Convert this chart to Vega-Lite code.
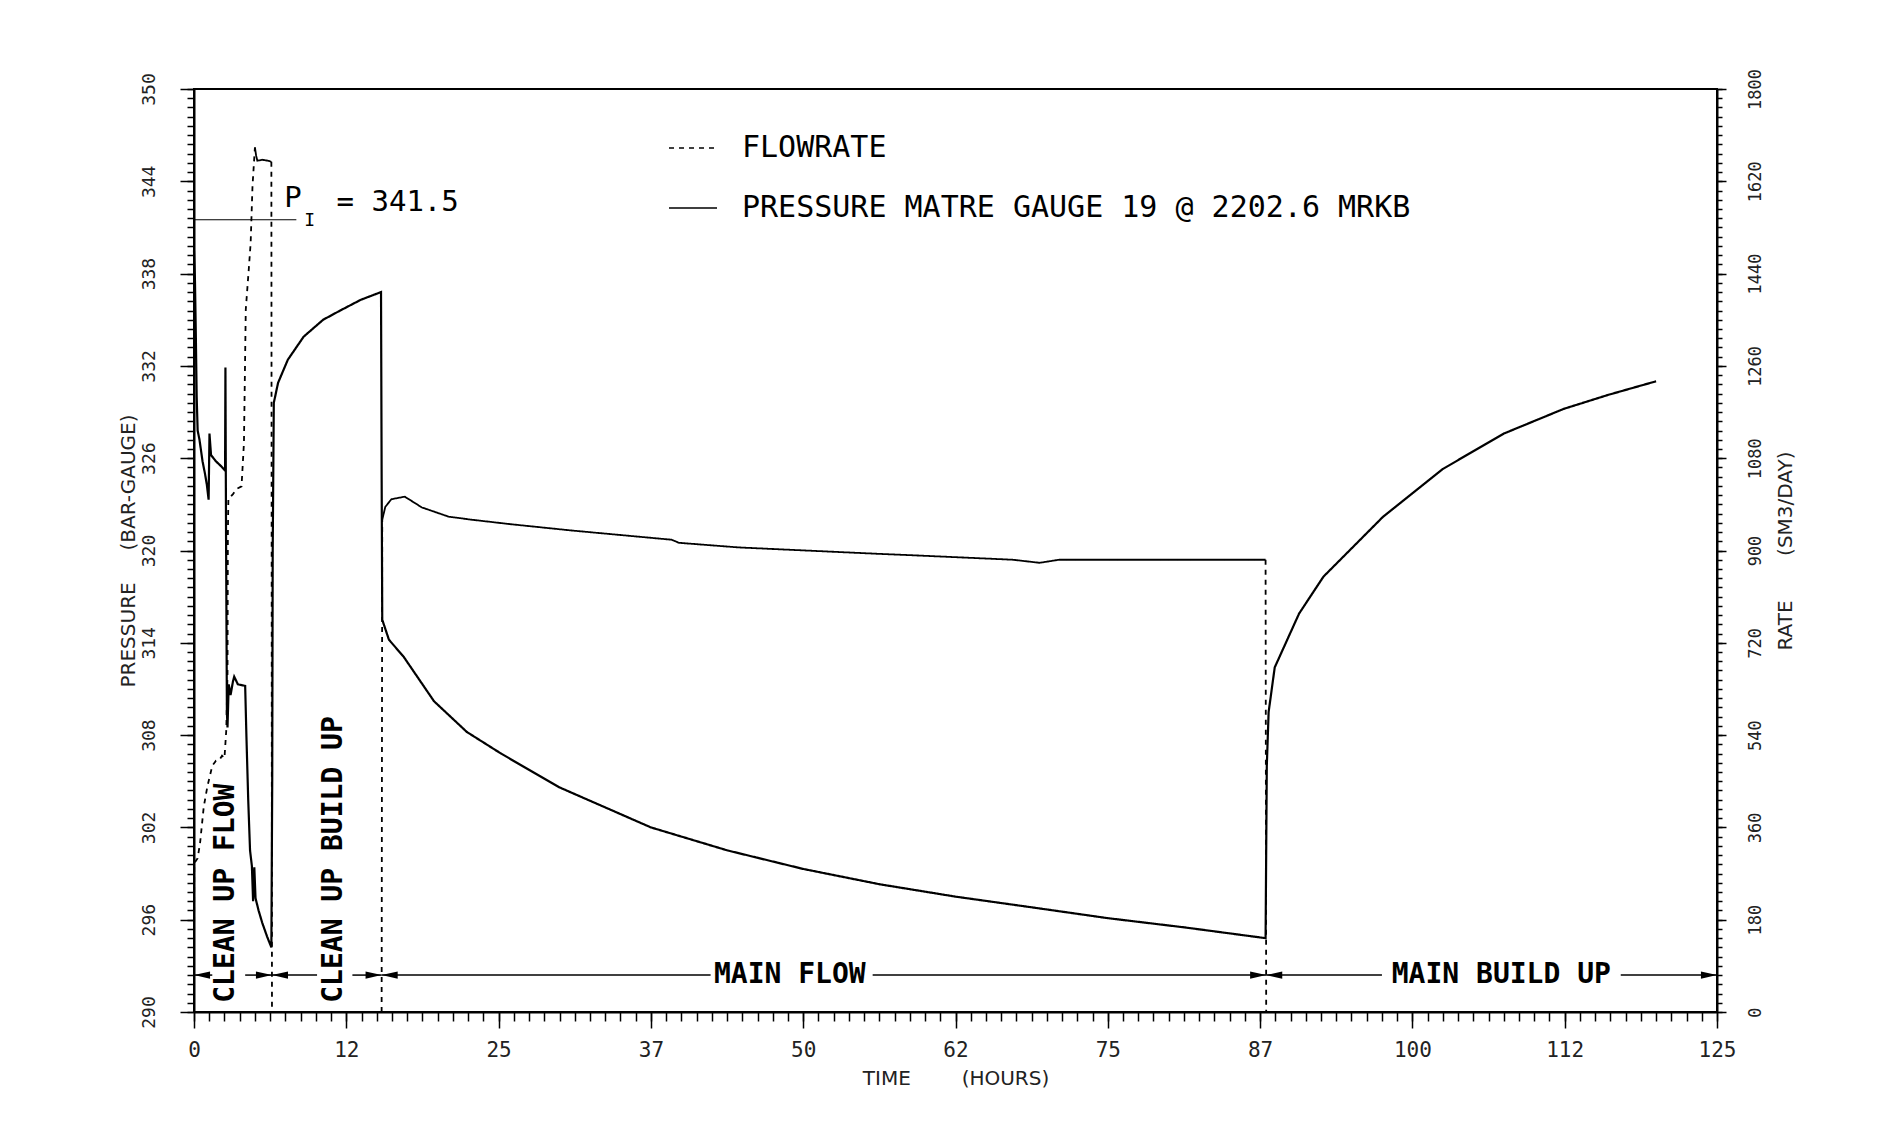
{
"$schema":"https://vega.github.io/schema/vega-lite/v6.json",
"width":1523,"height":923,
"autosize":{"type":"none"},
"padding":{"left":194,"top":89,"right":169,"bottom":136},
"background":"white",
"config":{"view":{"stroke":"black","strokeWidth":2},"axis":{"domainColor":"black","domainWidth":2,"tickColor":"black","tickWidth":1.5,"labelColor":"#222","grid":false,"labelOverlap":false,"labelFlush":false,"labelFont":"DejaVu Sans Mono","titleFont":"DejaVu Sans","titleFontWeight":"normal","titleColor":"#222","titleFontSize":20,"offset":0}},
"datasets":{
"pressure":[
{"t":0,"p":339.5},{"t":0.08,"p":337.5},{"t":0.15,"p":334},{"t":0.22,"p":330},{"t":0.3,"p":327.8},{"t":0.45,"p":327.2},{"t":0.7,"p":325.8},{"t":0.9,"p":325},{"t":1.05,"p":324.3},{"t":1.2,"p":323.3},{"t":1.27,"p":327.6},{"t":1.4,"p":326.2},{"t":1.8,"p":325.8},{"t":2.2,"p":325.5},{"t":2.55,"p":325.2},{"t":2.58,"p":331.9},{"t":2.63,"p":321},{"t":2.7,"p":309.5},{"t":2.75,"p":308.5},{"t":2.85,"p":311.3},{"t":3.0,"p":310.6},{"t":3.2,"p":311.5},{"t":3.3,"p":311.8},{"t":3.6,"p":311.3},{"t":4.2,"p":311.2},{"t":4.3,"p":308},{"t":4.45,"p":303.8},{"t":4.6,"p":300.5},{"t":4.75,"p":299.5},{"t":4.85,"p":297.2},{"t":4.95,"p":299.4},{"t":5.05,"p":297.4},{"t":5.3,"p":296.6},{"t":5.6,"p":295.8},{"t":6.0,"p":294.9},{"t":6.35,"p":294.2},{"t":6.42,"p":305},{"t":6.46,"p":320},{"t":6.55,"p":329.6},{"t":6.9,"p":330.9},{"t":7.7,"p":332.4},{"t":9.0,"p":333.9},{"t":10.6,"p":335.0},{"t":12.0,"p":335.6},{"t":13.7,"p":336.3},{"t":15.35,"p":336.8},{"t":15.4,"p":325},{"t":15.45,"p":315.5},{"t":16.0,"p":314.2},{"t":17.2,"p":313.1},{"t":19.7,"p":310.2},{"t":22.4,"p":308.2},{"t":25.2,"p":306.8},{"t":30.0,"p":304.6},{"t":37.5,"p":302.0},{"t":43.8,"p":300.5},{"t":50.0,"p":299.3},{"t":56.3,"p":298.3},{"t":62.5,"p":297.5},{"t":68.8,"p":296.8},{"t":75.0,"p":296.1},{"t":81.3,"p":295.5},{"t":87.95,"p":294.8},{"t":88.05,"p":306},{"t":88.2,"p":309.5},{"t":88.7,"p":312.4},{"t":90.7,"p":315.9},{"t":92.7,"p":318.3},{"t":97.6,"p":322.2},{"t":102.5,"p":325.3},{"t":107.5,"p":327.6},{"t":112.4,"p":329.2},{"t":116.0,"p":330.1},{"t":120.0,"p":331.0}
],
"flow":[
{"t":0,"q":0,"piece":1,"kind":"transition"},{"t":0.02,"q":290,"piece":1,"kind":"transition"},{"t":0.3,"q":300,"piece":1,"kind":"transition"},{"t":0.5,"q":330,"piece":1,"kind":"transition"},{"t":0.8,"q":400,"piece":1,"kind":"transition"},{"t":1.1,"q":440,"piece":1,"kind":"transition"},{"t":1.5,"q":480,"piece":1,"kind":"transition"},{"t":1.8,"q":490,"piece":1,"kind":"transition"},{"t":2.1,"q":492,"piece":1,"kind":"transition"},{"t":2.3,"q":500,"piece":1,"kind":"transition"},{"t":2.5,"q":495,"piece":1,"kind":"transition"},{"t":2.65,"q":550,"piece":1,"kind":"transition"},{"t":2.75,"q":660,"piece":1,"kind":"transition"},{"t":2.78,"q":930,"piece":1,"kind":"transition"},{"t":2.82,"q":1000,"piece":1,"kind":"transition"},{"t":3.2,"q":1010,"piece":1,"kind":"transition"},{"t":3.5,"q":1020,"piece":1,"kind":"transition"},{"t":3.9,"q":1025,"piece":1,"kind":"transition"},{"t":4.1,"q":1110,"piece":1,"kind":"transition"},{"t":4.25,"q":1370,"piece":1,"kind":"transition"},{"t":4.5,"q":1450,"piece":1,"kind":"transition"},{"t":4.65,"q":1500,"piece":1,"kind":"transition"},{"t":4.8,"q":1610,"piece":1,"kind":"transition"},{"t":5.0,"q":1686,"piece":1,"kind":"transition"},
{"t":5.0,"q":1686,"piece":2,"kind":"stable"},{"t":5.1,"q":1670,"piece":2,"kind":"stable"},{"t":5.2,"q":1660,"piece":2,"kind":"stable"},{"t":5.6,"q":1662,"piece":2,"kind":"stable"},{"t":6.1,"q":1660,"piece":2,"kind":"stable"},{"t":6.35,"q":1658,"piece":2,"kind":"stable"},
{"t":6.35,"q":1658,"piece":3,"kind":"transition"},{"t":6.4,"q":0,"piece":3,"kind":"transition"},
{"t":15.4,"q":0,"piece":4,"kind":"transition"},{"t":15.45,"q":960,"piece":4,"kind":"transition"},
{"t":15.45,"q":960,"piece":5,"kind":"stable"},{"t":15.7,"q":985,"piece":5,"kind":"stable"},{"t":16.2,"q":1000,"piece":5,"kind":"stable"},{"t":17.3,"q":1005,"piece":5,"kind":"stable"},{"t":18.7,"q":984,"piece":5,"kind":"stable"},{"t":20.9,"q":966,"piece":5,"kind":"stable"},{"t":22.8,"q":960,"piece":5,"kind":"stable"},{"t":26.1,"q":951,"piece":5,"kind":"stable"},{"t":31.0,"q":939,"piece":5,"kind":"stable"},{"t":35.1,"q":930,"piece":5,"kind":"stable"},{"t":39.2,"q":921,"piece":5,"kind":"stable"},{"t":39.8,"q":915,"piece":5,"kind":"stable"},{"t":44.7,"q":906,"piece":5,"kind":"stable"},{"t":55.7,"q":894,"piece":5,"kind":"stable"},{"t":58.7,"q":891,"piece":5,"kind":"stable"},{"t":67.2,"q":882,"piece":5,"kind":"stable"},{"t":69.4,"q":876,"piece":5,"kind":"stable"},{"t":71.0,"q":882,"piece":5,"kind":"stable"},{"t":80.0,"q":882,"piece":5,"kind":"stable"},{"t":87.95,"q":882,"piece":5,"kind":"stable"},
{"t":87.95,"q":882,"piece":6,"kind":"transition"},{"t":88.0,"q":0,"piece":6,"kind":"transition"}
],
"pi":[{"t0":0,"t1":8.4,"p":341.5}],
"spans":[{"t0":0,"t1":1.5,"p":292.4},{"t0":4.2,"t1":6.4,"p":292.4},{"t0":6.4,"t1":10.1,"p":292.4},{"t0":13.0,"t1":15.4,"p":292.4},{"t0":15.4,"t1":42.4,"p":292.4},{"t0":55.7,"t1":88.0,"p":292.4},{"t0":88.0,"t1":97.5,"p":292.4},{"t0":117.1,"t1":125,"p":292.4}],
"heads":[{"t":0.66,"p":292.4,"dir":"left"},{"t":5.74,"p":292.4,"dir":"right"},{"t":7.06,"p":292.4,"dir":"left"},{"t":14.74,"p":292.4,"dir":"right"},{"t":16.06,"p":292.4,"dir":"left"},{"t":87.34,"p":292.4,"dir":"right"},{"t":88.66,"p":292.4,"dir":"left"},{"t":124.34,"p":292.4,"dir":"right"}],
"notes":[{"label":"P","t":7.4,"p":342.9,"kind":"pi"},{"label":"= 341.5","t":11.7,"p":342.65,"kind":"pi"},{"label":"I","t":9.5,"p":341.45,"kind":"sub"},{"label":"CLEAN UP FLOW","t":2.6,"p":290.6,"kind":"phaseV"},{"label":"CLEAN UP BUILD UP","t":11.5,"p":290.6,"kind":"phaseV"},{"label":"MAIN FLOW","t":48.9,"p":292.4,"kind":"phaseH"},{"label":"MAIN BUILD UP","t":107.3,"p":292.4,"kind":"phaseH"}]
},
"layer":[
{"layer":[
{"data":{"name":"pressure"},"mark":{"type":"line","color":"black","strokeWidth":2.2},
 "encoding":{
  "x":{"field":"t","type":"quantitative","scale":{"domain":[0,125],"nice":false,"zero":false},
   "axis":{"orient":"bottom","values":[0,12.5,25,37.5,50,62.5,75,87.5,100,112.5,125],
    "title":"TIME\u00a0\u00a0\u00a0\u00a0\u00a0\u00a0\u00a0\u00a0(HOURS)","labelExpr":"'' + floor(datum.value)","labelFontSize":21,"labelPadding":11,"titlePadding":8,"tickSize":16}},
  "y":{"field":"p","type":"quantitative","scale":{"domain":[290,350],"nice":false,"zero":false},
   "axis":{"orient":"left","values":[290,296,302,308,314,320,326,332,338,344,350],
    "title":"PRESSURE\u00a0\u00a0\u00a0\u00a0\u00a0(BAR-GAUGE)","labelAngle":270,"labelAlign":"center","labelBaseline":"bottom","labelFontSize":18,"labelPadding":22,"titlePadding":2,"tickSize":14}},
  "strokeDash":{"datum":"PRESSURE MATRE GAUGE 19 @ 2202.6 MRKB","type":"nominal",
   "scale":{"domain":["FLOWRATE","PRESSURE MATRE GAUGE 19 @ 2202.6 MRKB"],"range":[[5,5],[1,0]]},
   "legend":{"orient":"none","legendX":474,"legendY":34,"direction":"vertical","title":null,"symbolType":"stroke","symbolSize":2304,"symbolStrokeWidth":1.5,"symbolStrokeColor":"black","labelFont":"DejaVu Sans Mono","labelFontSize":30,"labelColor":"black","labelLimit":0,"labelOffset":24,"rowPadding":20,"padding":0}}
 }},
{"data":{"name":"pi"},"mark":{"type":"rule","color":"black","strokeWidth":1.2},
 "encoding":{"x":{"field":"t0","type":"quantitative","scale":{"domain":[0,125]},"axis":null},"x2":{"field":"t1"},
  "y":{"field":"p","type":"quantitative","scale":{"domain":[290,350]},
   "axis":{"orient":"left","values":[290,290.6,291.2,291.8,292.4,293,293.6,294.2,294.8,295.4,296,296.6,297.2,297.8,298.4,299,299.6,300.2,300.8,301.4,302,302.6,303.2,303.8,304.4,305,305.6,306.2,306.8,307.4,308,308.6,309.2,309.8,310.4,311,311.6,312.2,312.8,313.4,314,314.6,315.2,315.8,316.4,317,317.6,318.2,318.8,319.4,320,320.6,321.2,321.8,322.4,323,323.6,324.2,324.8,325.4,326,326.6,327.2,327.8,328.4,329,329.6,330.2,330.8,331.4,332,332.6,333.2,333.8,334.4,335,335.6,336.2,336.8,337.4,338,338.6,339.2,339.8,340.4,341,341.6,342.2,342.8,343.4,344,344.6,345.2,345.8,346.4,347,347.6,348.2,348.8,349.4,350],
    "labels":false,"domain":false,"title":null,"tickSize":7}}}},
{"data":{"name":"spans"},"mark":{"type":"rule","color":"black","strokeWidth":1.5},
 "encoding":{"x":{"field":"t0","type":"quantitative","scale":{"domain":[0,125]},"axis":null},"x2":{"field":"t1"},
  "y":{"field":"p","type":"quantitative","scale":{"domain":[290,350]},"axis":null}}},
{"data":{"name":"heads"},"mark":{"type":"point","filled":true,"color":"black","opacity":1,"size":256},
 "encoding":{"x":{"field":"t","type":"quantitative","scale":{"domain":[0,125]},"axis":null},
  "y":{"field":"p","type":"quantitative","scale":{"domain":[290,350]},"axis":null},
  "shape":{"field":"dir","type":"nominal","scale":{"domain":["left","right"],"range":["M -1 0 L 1 -0.45 L 1 0.45 Z","M 1 0 L -1 -0.45 L -1 0.45 Z"]},"legend":null}}},
{"data":{"name":"notes"},"transform":[{"filter":"datum.kind == 'pi'"}],"mark":{"type":"text","font":"DejaVu Sans Mono","fontSize":29,"align":"left","baseline":"middle","color":"black"},
 "encoding":{"x":{"field":"t","type":"quantitative","scale":{"domain":[0,125]},"axis":null},
  "y":{"field":"p","type":"quantitative","scale":{"domain":[290,350]},"axis":null},"text":{"field":"label"}}},
{"data":{"name":"notes"},"transform":[{"filter":"datum.kind == 'sub'"}],"mark":{"type":"text","font":"DejaVu Sans Mono","fontSize":18,"align":"center","baseline":"middle","color":"black"},
 "encoding":{"x":{"field":"t","type":"quantitative","scale":{"domain":[0,125]},"axis":null},
  "y":{"field":"p","type":"quantitative","scale":{"domain":[290,350]},"axis":null},"text":{"field":"label"}}},
{"data":{"name":"notes"},"transform":[{"filter":"datum.kind == 'phaseV'"}],"mark":{"type":"text","font":"DejaVu Sans Mono","fontWeight":"bold","fontSize":28,"align":"left","baseline":"middle","angle":270,"color":"black"},
 "encoding":{"x":{"field":"t","type":"quantitative","scale":{"domain":[0,125]},"axis":null},
  "y":{"field":"p","type":"quantitative","scale":{"domain":[290,350]},"axis":null},"text":{"field":"label"}}},
{"data":{"name":"notes"},"transform":[{"filter":"datum.kind == 'phaseH'"}],"mark":{"type":"text","font":"DejaVu Sans Mono","fontWeight":"bold","fontSize":28,"align":"center","baseline":"middle","color":"black"},
 "encoding":{"x":{"field":"t","type":"quantitative","scale":{"domain":[0,125]},"axis":null},
  "y":{"field":"p","type":"quantitative","scale":{"domain":[290,350]},"axis":null},"text":{"field":"label"}}}
],
"resolve":{"axis":{"x":"independent","y":"independent"}}},
{"layer":[
{"data":{"name":"flow"},"transform":[{"filter":"datum.kind == 'transition'"}],"mark":{"type":"line","color":"black","strokeWidth":1.8},
 "encoding":{
  "x":{"field":"t","type":"quantitative","scale":{"domain":[0,125]},
   "axis":{"orient":"bottom","values":[0,1.25,2.5,3.75,5,6.25,7.5,8.75,10,11.25,12.5,13.75,15,16.25,17.5,18.75,20,21.25,22.5,23.75,25,26.25,27.5,28.75,30,31.25,32.5,33.75,35,36.25,37.5,38.75,40,41.25,42.5,43.75,45,46.25,47.5,48.75,50,51.25,52.5,53.75,55,56.25,57.5,58.75,60,61.25,62.5,63.75,65,66.25,67.5,68.75,70,71.25,72.5,73.75,75,76.25,77.5,78.75,80,81.25,82.5,83.75,85,86.25,87.5,88.75,90,91.25,92.5,93.75,95,96.25,97.5,98.75,100,101.25,102.5,103.75,105,106.25,107.5,108.75,110,111.25,112.5,113.75,115,116.25,117.5,118.75,120,121.25,122.5,123.75,125],
    "labels":false,"domain":false,"title":null,"tickSize":9}},
  "y":{"field":"q","type":"quantitative","scale":{"domain":[0,1800],"nice":false,"zero":false},
   "axis":{"orient":"right","values":[0,180,360,540,720,900,1080,1260,1440,1620,1800],"format":"d",
    "title":"RATE\u00a0\u00a0\u00a0\u00a0\u00a0\u00a0\u00a0(SM3/DAY)","titleAngle":270,"titleBaseline":"top","labelAngle":270,"labelAlign":"center","labelBaseline":"top","labelFontSize":17,"labelPadding":21,"titlePadding":12,"tickSize":9}},
  "detail":{"field":"piece","type":"nominal"},
  "strokeDash":{"datum":"FLOWRATE","type":"nominal"}
 }},
{"data":{"name":"flow"},"transform":[{"filter":"datum.kind == 'stable'"}],"mark":{"type":"line","color":"black","strokeWidth":1.8,"strokeDash":[1,0]},
 "encoding":{
  "x":{"field":"t","type":"quantitative","scale":{"domain":[0,125]},"axis":null},
  "y":{"field":"q","type":"quantitative","scale":{"domain":[0,1800],"nice":false,"zero":false},
   "axis":{"orient":"right","values":[0,18,36,54,72,90,108,126,144,162,180,198,216,234,252,270,288,306,324,342,360,378,396,414,432,450,468,486,504,522,540,558,576,594,612,630,648,666,684,702,720,738,756,774,792,810,828,846,864,882,900,918,936,954,972,990,1008,1026,1044,1062,1080,1098,1116,1134,1152,1170,1188,1206,1224,1242,1260,1278,1296,1314,1332,1350,1368,1386,1404,1422,1440,1458,1476,1494,1512,1530,1548,1566,1584,1602,1620,1638,1656,1674,1692,1710,1728,1746,1764,1782,1800],
    "labels":false,"domain":false,"title":null,"tickSize":5}},
  "detail":{"field":"piece","type":"nominal"}
 }}
],
"resolve":{"axis":{"x":"independent","y":"independent"}}}
],
"resolve":{"scale":{"y":"independent"},"axis":{"x":"independent"}}
}
